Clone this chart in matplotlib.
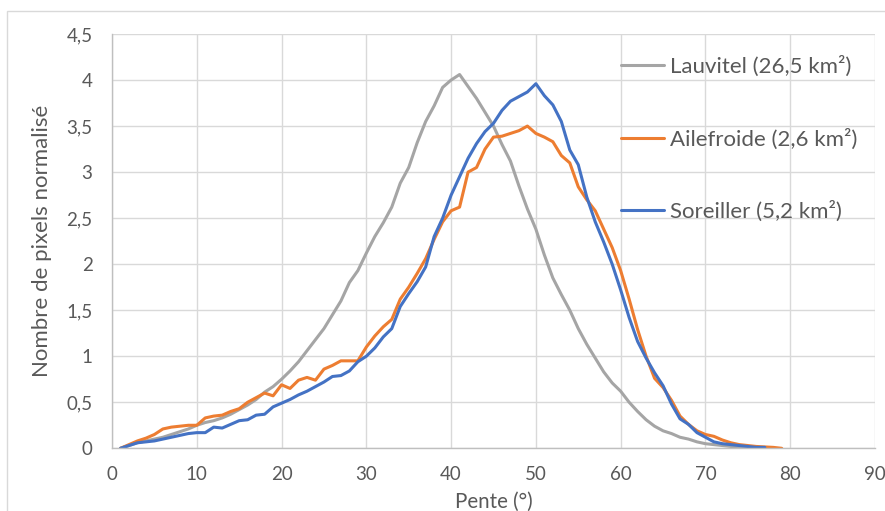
import matplotlib
matplotlib.use("Agg")
import matplotlib.pyplot as plt
from matplotlib.patches import Rectangle

plt.rcParams['font.family'] = ['Lato', 'DejaVu Sans']

pente_lauvitel = list(range(1, 77))
lauvitel = [0.0, 0.03, 0.06, 0.08, 0.10, 0.12, 0.15, 0.18, 0.21, 0.25,
            0.28, 0.30, 0.33, 0.37, 0.42, 0.47, 0.53, 0.61, 0.67, 0.75,
            0.84, 0.94, 1.06, 1.18, 1.30, 1.45, 1.60, 1.80, 1.93, 2.12,
            2.30, 2.45, 2.62, 2.88, 3.05, 3.32, 3.55, 3.72, 3.92, 4.00,
            4.06, 3.93, 3.80, 3.65, 3.50, 3.30, 3.12, 2.85, 2.60, 2.38,
            2.10, 1.85, 1.67, 1.50, 1.30, 1.13, 0.98, 0.83, 0.71, 0.62,
            0.50, 0.40, 0.31, 0.24, 0.19, 0.16, 0.12, 0.10, 0.07, 0.05,
            0.04, 0.03, 0.02, 0.01, 0.005, 0.0]

pente_ailefroide = list(range(1, 80))
ailefroide = [0.0, 0.04, 0.08, 0.11, 0.15, 0.21, 0.23, 0.24, 0.25, 0.25,
              0.33, 0.35, 0.36, 0.40, 0.43, 0.50, 0.55, 0.60, 0.57, 0.69,
              0.65, 0.74, 0.77, 0.74, 0.86, 0.90, 0.95, 0.95, 0.95, 1.10,
              1.22, 1.32, 1.40, 1.62, 1.75, 1.90, 2.06, 2.27, 2.46, 2.58,
              2.62, 3.00, 3.05, 3.25, 3.38, 3.39, 3.42, 3.45, 3.50, 3.42,
              3.38, 3.33, 3.18, 3.10, 2.84, 2.70, 2.58, 2.38, 2.18, 1.93,
              1.62, 1.29, 1.00, 0.76, 0.66, 0.52, 0.35, 0.26, 0.19, 0.15,
              0.13, 0.09, 0.06, 0.04, 0.03, 0.02, 0.015, 0.01, 0.0]

pente_soreiller = list(range(1, 78))
soreiller = [0.0, 0.03, 0.06, 0.07, 0.08, 0.10, 0.12, 0.14, 0.16, 0.17,
             0.17, 0.23, 0.22, 0.26, 0.30, 0.31, 0.36, 0.37, 0.45, 0.49,
             0.53, 0.58, 0.62, 0.67, 0.72, 0.78, 0.79, 0.84, 0.94, 1.00,
             1.09, 1.21, 1.30, 1.54, 1.68, 1.81, 1.97, 2.30, 2.50, 2.75,
             2.95, 3.15, 3.31, 3.44, 3.53, 3.67, 3.77, 3.82, 3.87, 3.96,
             3.83, 3.73, 3.55, 3.24, 3.08, 2.73, 2.46, 2.24, 2.00, 1.72,
             1.42, 1.16, 0.98, 0.82, 0.68, 0.48, 0.32, 0.26, 0.17, 0.12,
             0.07, 0.05, 0.04, 0.03, 0.02, 0.01, 0.01]

labels = ["Lauvitel (26,5 km²)", "Ailefroide (2,6 km²)", "Soreiller (5,2 km²)"]
colors = ["#A5A5A5", "#ED7D31", "#4472C4"]

x_ticks = [0, 10, 20, 30, 40, 50, 60, 70, 80, 90]
y_ticks = [0, 0.5, 1, 1.5, 2, 2.5, 3, 3.5, 4, 4.5]
y_ticklabels = ["0", "0,5", "1", "1,5", "2", "2,5", "3", "3,5", "4", "4,5"]

W, H = 885, 511
fig = plt.figure(figsize=(W / 100, H / 100), dpi=100)
fig.patches.append(Rectangle((7 / W, -0.1), 1.2, (H - 11) / H + 0.1,
                             transform=fig.transFigure, fill=False,
                             edgecolor="#D9D9D9", linewidth=1.0))

ax = fig.add_axes([112 / W, (H - 448.3) / H, (875 - 112) / W, (448.3 - 34) / H])
text_col = "#595959"

series = [(pente_lauvitel, lauvitel), (pente_ailefroide, ailefroide), (pente_soreiller, soreiller)]
for (xs, ys), lab, col in zip(series, labels, colors):
    ax.plot(xs, ys, color=col, linewidth=2.2, label=lab,
            solid_joinstyle="round", solid_capstyle="round")

ax.set_xlim(0, 90)
ax.set_ylim(0, 4.5)
ax.set_xticks(x_ticks)
ax.set_yticks(y_ticks)
ax.set_yticklabels(y_ticklabels)
ax.grid(True, color="#D9D9D9", linewidth=1.0)
ax.set_axisbelow(True)
for s in ["top", "right"]:
    ax.spines[s].set_visible(False)
for s in ["left", "bottom"]:
    ax.spines[s].set_color("#BFBFBF")
    ax.spines[s].set_linewidth(1.0)
ax.tick_params(axis="both", length=0, labelsize=13.5, labelcolor=text_col)
ax.tick_params(axis="y", pad=14)
ax.tick_params(axis="x", pad=13)

ax.set_xlabel("Pente (°)", fontsize=14.8, color=text_col, labelpad=6)
ax.set_ylabel("Nombre de pixels normalisé", fontsize=16, color=text_col, labelpad=10)

leg = ax.legend(loc="upper left", bbox_to_anchor=(621 / W, (H - 56) / H),
                bbox_transform=fig.transFigure, frameon=False,
                fontsize=16, handlelength=1.95, handletextpad=0.27,
                labelspacing=2.3, borderaxespad=0, borderpad=0)
for t in leg.get_texts():
    t.set_color(text_col)

fig.savefig("out.png", dpi=100)
